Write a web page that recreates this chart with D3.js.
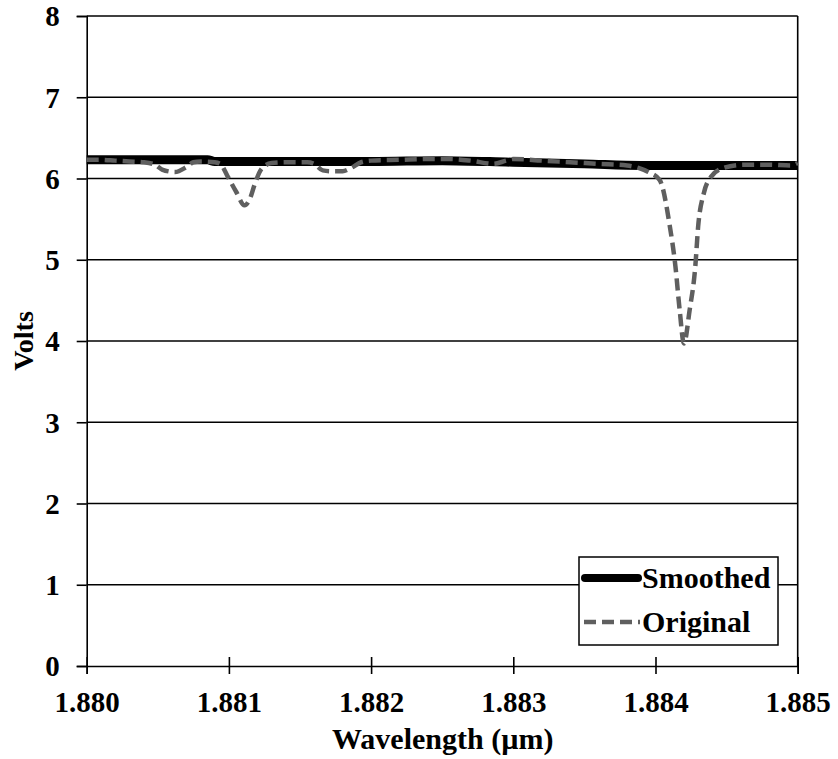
<!DOCTYPE html>
<html>
<head>
<meta charset="utf-8">
<script src="https://cdn.jsdelivr.net/npm/d3@7/dist/d3.min.js"></script>
<style>
  html, body { margin: 0; padding: 0; background: #fff; }
  svg { display: block; }
</style>
</head>
<body>
<svg id="chart" width="838" height="759"></svg>
<script>
// ---- data (wavelength in µm, volts) ----
const origWavelength = [
  1.88000, 1.88010, 1.88020, 1.88030, 1.88040, 1.88048, 1.88053, 1.88062, 1.88070, 1.88075,
  1.88080, 1.88090, 1.88094, 1.88099, 1.88105, 1.88111, 1.88115, 1.88118, 1.88123, 1.88130,
  1.88140, 1.88155, 1.88160, 1.88166, 1.88172, 1.88180, 1.88186, 1.88193, 1.88200, 1.88220,
  1.88240, 1.88255, 1.88270, 1.88286, 1.88295, 1.88300, 1.88320, 1.88340, 1.88360, 1.88380,
  1.88388, 1.88395, 1.88403, 1.88410, 1.88414, 1.88417, 1.88420, 1.88424, 1.88428, 1.88430,
  1.88434, 1.88439, 1.88448, 1.88462, 1.88480, 1.88495, 1.88500
];
const origVolts = [
  6.23, 6.23, 6.22, 6.21, 6.20, 6.17, 6.11, 6.08, 6.14, 6.20,
  6.21, 6.20, 6.18, 6.03, 5.84, 5.67, 5.76, 5.92, 6.12, 6.19,
  6.20, 6.20, 6.18, 6.10, 6.09, 6.09, 6.13, 6.20, 6.22, 6.23,
  6.24, 6.24, 6.22, 6.18, 6.22, 6.24, 6.22, 6.20, 6.18, 6.16,
  6.13, 6.08, 5.98, 5.42, 4.92, 4.38, 3.97, 4.38, 4.92, 5.41,
  5.82, 6.02, 6.13, 6.17, 6.17, 6.16, 6.19
];
const smoothWavelength = [1.8800, 1.88085, 1.8809, 1.8820, 1.8825, 1.8830, 1.8835, 1.8839, 1.8842, 1.8846, 1.8850];
const smoothVolts      = [6.23,   6.23,    6.21,   6.21,   6.22,   6.20,   6.18,   6.16,   6.16,   6.16,   6.16];

const xTicks = [1.880, 1.881, 1.882, 1.883, 1.884, 1.885];
const yTicks = [0, 1, 2, 3, 4, 5, 6, 7, 8];
const seriesNames = ["Smoothed", "Original"];
const xTitle = "Wavelength (µm)";
const yTitle = "Volts";

// ---- layout ----
const svg = d3.select("#chart");
const L = 86.7, R = 797.7, T = 16, B = 666;
const x = d3.scaleLinear().domain([1.880, 1.885]).range([L, R]);
const y = d3.scaleLinear().domain([0, 8]).range([B, T]);
const FONT = "Liberation Serif";

// gridlines
svg.append("g").selectAll("line").data(yTicks.filter(d => d > 0)).join("line")
  .attr("x1", L).attr("x2", R)
  .attr("y1", d => y(d)).attr("y2", d => y(d))
  .attr("stroke", "#000").attr("stroke-width", 1.6);

// right border
svg.append("line").attr("x1", R).attr("x2", R).attr("y1", T).attr("y2", B)
  .attr("stroke", "#000").attr("stroke-width", 1.6);

// y axis
const yAxis = d3.axisLeft(y).tickValues(yTicks).tickSize(10).tickPadding(17).tickFormat(d3.format("d"));
const gy = svg.append("g").attr("transform", `translate(${L},0)`).call(yAxis)
  .attr("font-family", FONT).attr("font-size", 29).attr("font-weight", "bold");
gy.select(".domain").attr("stroke", "#000").attr("stroke-width", 1.6);
gy.selectAll(".tick line").attr("stroke", "#000").attr("stroke-width", 1.6);
gy.selectAll(".tick text").attr("dy", "0.34em").attr("fill", "#000");

// x axis
const xAx = d3.axisBottom(x).tickValues(xTicks).tickSize(8).tickPadding(17).tickFormat(d3.format(".3f"));
const gx = svg.append("g").attr("transform", `translate(0,${B})`).call(xAx)
  .attr("font-family", FONT).attr("font-size", 29).attr("font-weight", "bold");
gx.select(".domain").attr("stroke", "#000").attr("stroke-width", 1.6);
gx.selectAll(".tick line").attr("stroke", "#000").attr("stroke-width", 1.6).attr("y1", -9);
gx.selectAll(".tick text").attr("fill", "#000");

// titles
svg.append("text").attr("x", (L + R) / 2 + 0.5).attr("y", 749).attr("text-anchor", "middle")
  .attr("font-family", FONT).attr("font-weight", "bold").attr("font-size", 30).text(xTitle);
svg.append("text").attr("transform", `translate(33,341) rotate(-90)`).attr("text-anchor", "middle")
  .attr("font-family", FONT).attr("font-weight", "bold").attr("font-size", 28).text(yTitle);

// lines
const lineGen = d3.line().x(d => x(d[0])).y(d => y(d[1])).curve(d3.curveMonotoneX);
const smoothData = smoothWavelength.map((w, i) => [w, smoothVolts[i]]);
const origData = origWavelength.map((w, i) => [w, origVolts[i]]);

svg.append("path").datum(smoothData).attr("d", lineGen)
  .attr("fill", "none").attr("stroke", "#000").attr("stroke-width", 9);
svg.append("path").datum(origData).attr("d", lineGen)
  .attr("fill", "none").attr("stroke", "#5f5f5f").attr("stroke-width", 4.5)
  .attr("stroke-dasharray", "12,6");

// legend
const lg = svg.append("g").attr("font-family", FONT).attr("font-weight", "bold").attr("font-size", 30);
lg.append("rect").attr("x", 579).attr("y", 557).attr("width", 199).attr("height", 88)
  .attr("fill", "#fff").attr("stroke", "#000").attr("stroke-width", 1.5);
lg.append("line").attr("x1", 585).attr("x2", 638).attr("y1", 578).attr("y2", 578)
  .attr("stroke", "#000").attr("stroke-width", 8).attr("stroke-linecap", "round");
lg.append("line").attr("x1", 584).attr("x2", 640).attr("y1", 622).attr("y2", 622)
  .attr("stroke", "#5f5f5f").attr("stroke-width", 4.5).attr("stroke-dasharray", "12,6");
lg.append("text").attr("x", 642).attr("y", 588).text(seriesNames[0]);
lg.append("text").attr("x", 642).attr("y", 632).text(seriesNames[1]);
</script>
</body>
</html>
